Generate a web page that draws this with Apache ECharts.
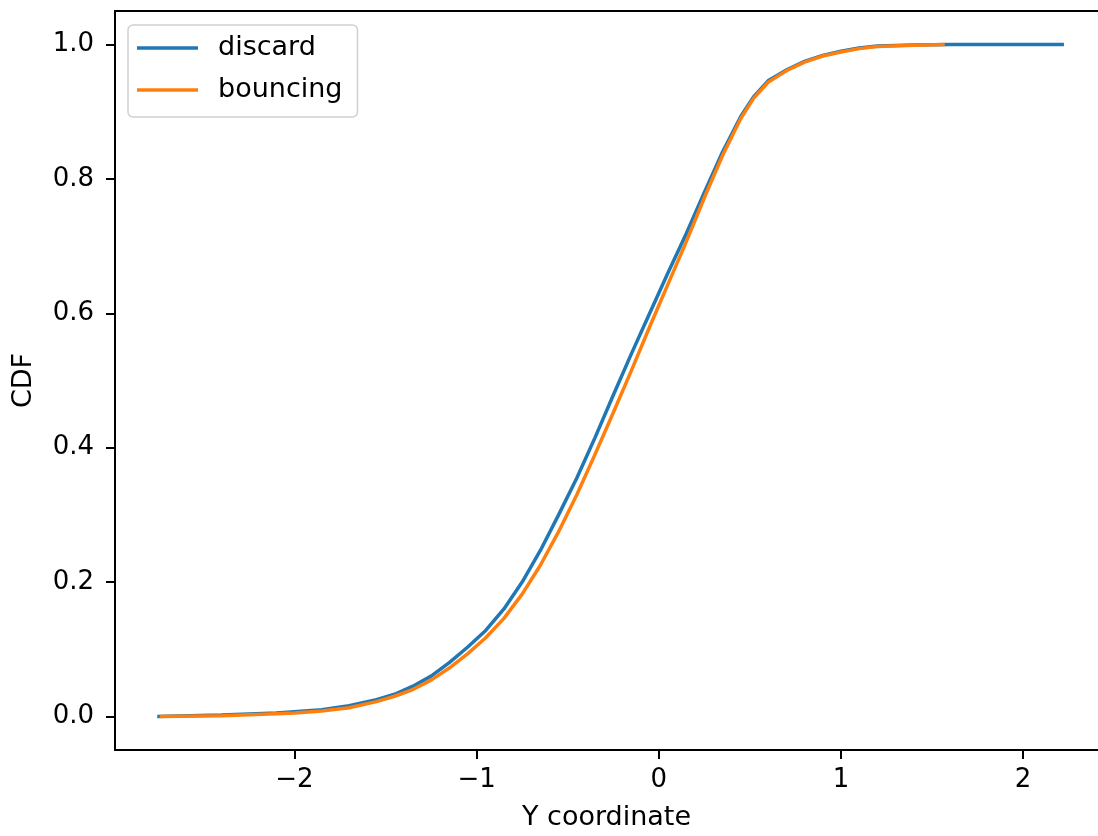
<!DOCTYPE html>
<html>
<head>
<meta charset="utf-8">
<script src="https://cdn.jsdelivr.net/npm/echarts@6/dist/echarts.min.js"></script>
<style>
html,body{margin:0;padding:0;background:#fff;}
#chart{width:1098px;height:836px;}
</style>
</head>
<body>
<div id="chart"></div>
<script>
// ---- data ----
const seriesNames = ['discard', 'bouncing'];
const discardX = [-2.753,-2.4,-2.1,-2.0,-1.85,-1.7,-1.55,-1.45,-1.35,-1.25,-1.15,-1.05,-0.95,-0.85,-0.75,-0.65,-0.55,-0.45,-0.35,-0.25,-0.15,-0.05,0.05,0.15,0.25,0.35,0.45,0.52,0.6,0.7,0.8,0.9,1.0,1.1,1.2,1.4,1.6,2.224];
const discardY = [0.000,0.002,0.005,0.007,0.010,0.016,0.025,0.033,0.045,0.060,0.080,0.103,0.128,0.160,0.200,0.247,0.300,0.355,0.415,0.478,0.540,0.600,0.660,0.718,0.780,0.840,0.893,0.922,0.946,0.962,0.975,0.984,0.990,0.995,0.998,0.9995,1.0,1.0];
const bouncingX = [-2.74,-2.4,-2.1,-2.0,-1.85,-1.7,-1.55,-1.45,-1.35,-1.25,-1.15,-1.05,-0.95,-0.85,-0.75,-0.65,-0.55,-0.45,-0.35,-0.25,-0.15,-0.05,0.05,0.15,0.25,0.35,0.45,0.52,0.6,0.7,0.8,0.9,1.0,1.1,1.2,1.4,1.57];
const bouncingY = [0.000,0.001,0.004,0.005,0.008,0.013,0.022,0.030,0.040,0.054,0.072,0.093,0.117,0.146,0.182,0.225,0.275,0.330,0.390,0.452,0.515,0.580,0.643,0.706,0.772,0.835,0.890,0.920,0.944,0.961,0.974,0.983,0.989,0.994,0.997,0.999,1.0];
const xTicks = [-2, -1, 0, 1, 2];
const yTicks = [0.0, 0.2, 0.4, 0.6, 0.8, 1.0];
const xName = 'Y coordinate';
const yName = 'CDF';

const zip = (xs, ys) => xs.map((x, i) => [x, ys[i]]);
const FONT = 'DejaVu Sans';
const FS = 26;
const FS2 = 27;
const X_MIN = -2.985, X_MAX = 2.411;

const chart = echarts.init(document.getElementById('chart'), null, {renderer: 'canvas'});
chart.setOption({
  animation: false,
  backgroundColor: '#ffffff',
  textStyle: {fontFamily: FONT},
  grid: {left: 115, top: 11, bottom: 85, right: 0, show: false},
  legend: {
    data: seriesNames,
    orient: 'vertical',
    left: 128, top: 25,
    padding: [8, 15, 12, 9],
    icon: 'rect',
    itemWidth: 61, itemHeight: 3.5, itemGap: 12,
    backgroundColor: 'rgba(255,255,255,0.8)',
    borderColor: '#d0d0d0', borderWidth: 1.5, borderRadius: 5,
    textStyle: {fontFamily: FONT, fontSize: FS2, color: '#000', lineHeight: 30, padding: [0, 0, 0, 15]}
  },
  xAxis: [{
    type: 'value', min: X_MIN, max: X_MAX, position: 'bottom',
    name: xName, nameLocation: 'middle', nameGap: 54,
    nameTextStyle: {fontFamily: FONT, fontSize: FS2, color: '#000'},
    axisLine: {show: true, onZero: false, lineStyle: {color: '#000', width: 2}},
    axisTick: {show: true, length: 9, lineStyle: {color: '#000', width: 2}, customValues: xTicks},
    axisLabel: {
      fontFamily: FONT, fontSize: FS, color: '#000', margin: 17, customValues: xTicks,
      formatter: v => (v < 0 ? '\u2212' + Math.abs(v) : String(v))
    },
    splitLine: {show: false}
  }, {
    type: 'value', min: X_MIN, max: X_MAX, position: 'top',
    axisLine: {show: true, onZero: false, lineStyle: {color: '#000', width: 2}},
    axisTick: {show: false}, axisLabel: {show: false}, splitLine: {show: false}
  }],
  yAxis: {
    type: 'value', min: -0.05, max: 1.05,
    name: yName, nameLocation: 'middle', nameGap: 78, nameRotate: 90,
    nameTextStyle: {fontFamily: FONT, fontSize: FS2, color: '#000'},
    axisLine: {show: true, onZero: false, lineStyle: {color: '#000', width: 2}},
    axisTick: {show: true, length: 9, lineStyle: {color: '#000', width: 2}, customValues: yTicks},
    axisLabel: {
      fontFamily: FONT, fontSize: FS, color: '#000', margin: 21, customValues: yTicks,
      formatter: v => v.toFixed(1)
    },
    splitLine: {show: false}
  },
  series: [
    {
      name: seriesNames[0], type: 'line', data: zip(discardX, discardY),
      symbol: 'none', showSymbol: false, smooth: false,
      lineStyle: {color: '#1f77b4', width: 3.5}, itemStyle: {color: '#1f77b4'}
    },
    {
      name: seriesNames[1], type: 'line', data: zip(bouncingX, bouncingY),
      symbol: 'none', showSymbol: false, smooth: false,
      lineStyle: {color: '#ff7f0e', width: 3.5}, itemStyle: {color: '#ff7f0e'}
    }
  ]
});
</script>
</body>
</html>
